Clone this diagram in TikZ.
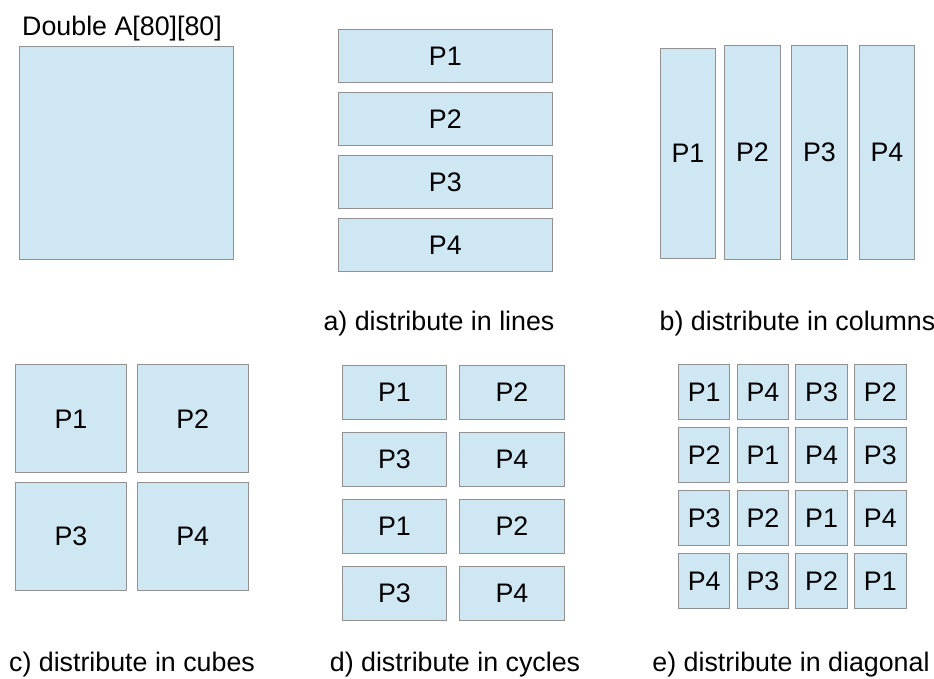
\documentclass[tikz,border=0pt]{standalone}
\usepackage{fontspec}
\setmainfont{Liberation Sans}
\usepackage{tikz}
\usetikzlibrary{positioning}

\definecolor{cellblue}{RGB}{207,230,243}
\definecolor{cellgray}{RGB}{145,145,145}

\begin{document}
\begin{tikzpicture}[
x=1pt, y=-1pt,
txt/.style={font=\fontsize{26.8}{31}\selectfont},
cell/.style={draw=cellgray, fill=cellblue, line width=1pt, inner sep=0pt, txt},
caption/.style={anchor=base, inner sep=0pt, txt} ]

\useasboundingbox (0,0) rectangle (934,678);

% whole matrix
\node[anchor=base west, inner sep=0pt, txt](title) at (22,35) {Double A[80][80]};
\node[cell, minimum width=214pt, minimum height=213pt](A) at (126,152.5) {};

% a) lines
\foreach \i in {1,...,4}
  \node[cell, minimum width=214pt, minimum height=53.5pt](a\i) at (445.3,{56+63*(\i-1)}) {P\i};
\node[caption](capA) at (439,330) {a) distribute in lines};

% b) columns
\node[cell, minimum width=55.5pt, minimum height=209.6pt](b1) at (687.9,153.5) {P1};
\foreach \x/\i in {752.4/2, 819.5/3, 886.9/4}
  \node[cell, minimum width=55.5pt, minimum height=213.6pt](b\i) at (\x,152.5) {P\i};
\node[caption](capB) at (797.5,330) {b) distribute in columns};

% c) cubes
\foreach \r in {0,1}
  \foreach \c in {0,1} {
    \pgfmathtruncatemacro\lab{2*\r+\c+1}
    \node[cell, minimum width=111.4pt, minimum height=107.7pt](c\r\c) at ({71+121.7*\c},{418.8+117.5*\r}) {P\lab};
  }
\node[caption](capC) at (132,671.5) {c) distribute in cubes};

% d) cycles
\foreach \r in {0,...,3}
  \foreach \c in {0,1} {
    \pgfmathtruncatemacro\lab{2*mod(\r,2)+\c+1}
    \node[cell, minimum width=104.4pt, minimum height=54.4pt](d\r\c) at ({394.5+117.5*\c},{392.2+67.1*\r}) {P\lab};
  }
\node[caption](capD) at (455,671.5) {d) distribute in cycles};

% e) diagonal
\foreach \r in {0,...,3}
  \foreach \c in {0,...,3} {
    \pgfmathtruncatemacro\lab{mod(\r-\c+4,4)+1}
    \node[cell, minimum width=51.5pt, minimum height=54.5pt](e\r\c) at ({704.2+58.7*\c},{392.2+62.9*\r}) {P\lab};
  }
\node[caption](capE) at (791,671.5) {e) distribute in diagonal};

\end{tikzpicture}
\end{document}
